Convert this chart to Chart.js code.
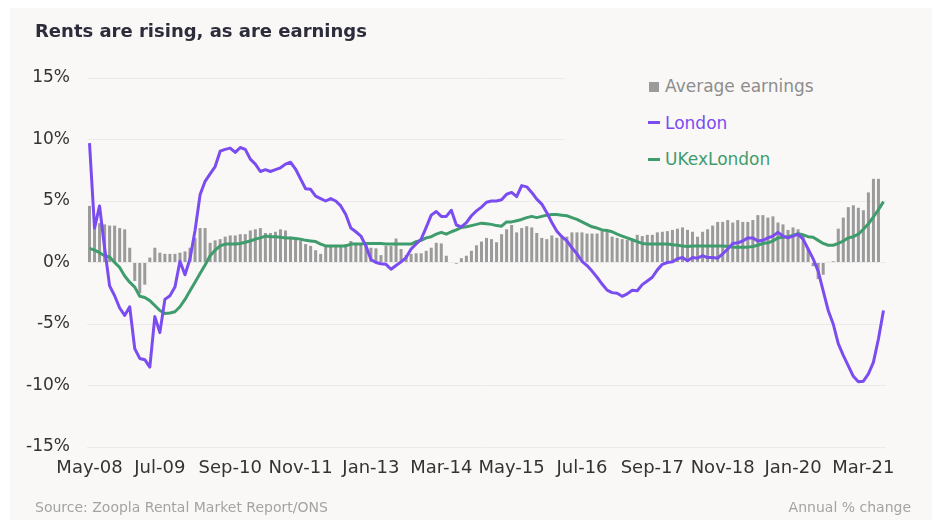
<!DOCTYPE html>
<html>
<head>
<meta charset="utf-8">
<title>Rents are rising, as are earnings</title>
<script src="https://cdn.jsdelivr.net/npm/chart.js@4.4.1/dist/chart.umd.min.js"></script>
<style>
    body { margin: 0; width: 932px; height: 520px; overflow: hidden; background: #fff; font-family: "DejaVu Sans", sans-serif; }
    #panel { position: absolute; left: 10px; top: 8px; width: 922px; height: 512px; background: #f9f8f6; }
    #chart { position: absolute; left: 0; top: 0; }
    .txt { position: absolute; line-height: 1; white-space: nowrap; }
    #title { left: 35px; top: 22px; font-size: 18px; font-weight: bold; color: #2c2c3a; }
    #legend { position: absolute; left: 565px; top: 64px; width: 367px; height: 108px; background: #f9f8f6; }
    .lg { font-size: 17px; left: 665px; }
    .swatch { position: absolute; }
    #source { left: 35px; top: 500px; font-size: 14px; color: #a3a3a3; }
    #unit { right: 21px; top: 500px; font-size: 14px; color: #a3a3a3; }
</style>
</head>
<body>
<div id="panel"></div>
<canvas id="chart" width="932" height="520"></canvas>
<div id="title" class="txt">Rents are rising, as are earnings</div>
<div id="legend"></div>
<div class="swatch" style="left:649px; top:82px; width:10px; height:10px; background:#9b9b9b;"></div>
<div class="txt lg" style="top:78px; color:#8d8d8d;">Average earnings</div>
<div class="swatch" style="left:648px; top:121px; width:12px; height:3px; background:#7b4cf0;"></div>
<div class="txt lg" style="top:115px; color:#7b4cf0;">London</div>
<div class="swatch" style="left:648px; top:158px; width:12px; height:3px; background:#3f9c6d;"></div>
<div class="txt lg" style="top:151px; color:#3f9c6d;">UKexLondon</div>
<div id="source" class="txt">Source: Zoopla Rental Market Report/ONS</div>
<div id="unit" class="txt">Annual % change</div>
<script>
// Monthly series, May-08 to Jul-21
const monthNames = ['Jan', 'Feb', 'Mar', 'Apr', 'May', 'Jun', 'Jul', 'Aug', 'Sep', 'Oct', 'Nov', 'Dec'];
const startYear = 2008;
const startMonth = 4; // May
const monthCount = 159;

const months = [];
for (let k = 0; k < monthCount; k++) {
    const m = (startMonth + k) % 12;
    const y = startYear + Math.floor((startMonth + k) / 12);
    months.push(monthNames[m] + '-' + String(y).slice(2));
}

const tickLabels = ['May-08', 'Jul-09', 'Sep-10', 'Nov-11', 'Jan-13', 'Mar-14',
    'May-15', 'Jul-16', 'Sep-17', 'Nov-18', 'Jan-20', 'Mar-21'];

const earnings = [
    4.6, 3.3, 3.2, 3.1, 3.0, 3.0, 2.8, 2.7, 1.2, -1.5, -2.5, -1.8, 0.4, 1.2, 0.8, 0.7, 0.7, 0.7, 0.8, 0.9,
    1.2, 2.0, 2.8, 2.8, 1.6, 1.8, 1.9, 2.1, 2.2, 2.2, 2.3, 2.3, 2.6, 2.7, 2.8, 2.4, 2.4, 2.5, 2.7, 2.6,
    2.1, 2.0, 1.8, 1.5, 1.35, 1.0, 0.7, 1.3, 1.3, 1.3, 1.3, 1.5, 1.75, 1.6, 1.55, 1.5, 1.2, 1.15, 0.6, 1.35,
    1.35, 1.95, 1.1, 0.6, 0.7, 0.75, 0.75, 0.95, 1.2, 1.6, 1.55, 0.55, 0.0, -0.1, 0.35, 0.55, 0.95, 1.4, 1.7, 2.0,
    1.9, 1.65, 2.3, 2.7, 3.05, 2.45, 2.8, 2.95, 2.85, 2.4, 2.0, 1.9, 2.2, 2.0, 2.15, 2.1, 2.45, 2.45, 2.45, 2.35,
    2.35, 2.35, 2.55, 2.6, 2.1, 2.0, 1.9, 1.85, 1.85, 2.25, 2.15, 2.25, 2.25, 2.45, 2.5, 2.55, 2.65, 2.75, 2.85, 2.65,
    2.5, 2.1, 2.5, 2.7, 3.0, 3.3, 3.3, 3.45, 3.25, 3.45, 3.3, 3.3, 3.45, 3.85, 3.85, 3.65, 3.75, 3.25, 3.1, 2.65,
    2.85, 2.7, 2.3, 1.1, -0.3, -1.35, -1.0, 0.05, 0.1, 2.75, 3.65, 4.5, 4.65, 4.45, 4.25, 5.7, 6.8, 6.8, null
];

const london = [
    9.7, 2.8, 4.6, 1.2, -1.9, -2.7, -3.7, -4.3, -3.6, -7.0, -7.8, -7.9, -8.5, -4.4, -5.7, -3.0, -2.7, -2.0, 0.1, -1.0,
    0.3, 2.6, 5.5, 6.6, 7.2, 7.8, 9.05, 9.2, 9.3, 8.95, 9.35, 9.2, 8.4, 8.0, 7.4, 7.55, 7.4, 7.55, 7.7, 8.0,
    8.15, 7.6, 6.8, 6.0, 5.95, 5.4, 5.2, 5.0, 5.2, 5.0, 4.6, 3.9, 2.8, 2.5, 2.15, 1.35, 0.25, 0.0, -0.1, -0.15,
    -0.55, -0.25, 0.05, 0.4, 1.1, 1.5, 1.9, 2.85, 3.85, 4.15, 3.75, 3.75, 4.25, 3.05, 2.9, 3.25, 3.8, 4.2, 4.5, 4.9,
    5.0, 5.0, 5.1, 5.55, 5.7, 5.35, 6.25, 6.15, 5.7, 5.15, 4.75, 4.05, 3.25, 2.55, 2.1, 1.75, 1.2, 0.7, 0.1, -0.25,
    -0.7, -1.2, -1.75, -2.25, -2.45, -2.5, -2.75, -2.55, -2.25, -2.3, -1.8, -1.5, -1.2, -0.6, -0.15, 0.0, 0.05, 0.3, 0.4, 0.15,
    0.4, 0.35, 0.55, 0.4, 0.4, 0.35, 0.7, 1.1, 1.55, 1.6, 1.75, 2.0, 2.0, 1.75, 1.8, 2.0, 2.15, 2.45, 2.15, 2.0,
    2.15, 2.3, 1.9, 1.1, 0.3, -0.7, -2.3, -3.9, -5.0, -6.6, -7.55, -8.4, -9.25, -9.7, -9.65, -9.05, -8.1, -6.2, -3.9
];

const ukExLondon = [
    1.15, 1.0, 0.8, 0.55, 0.45, 0.0, -0.4, -1.1, -1.6, -2.0, -2.75, -2.85, -3.1, -3.5, -3.9, -4.15, -4.1, -4.0, -3.6, -3.0,
    -2.3, -1.6, -0.9, -0.2, 0.55, 1.0, 1.35, 1.5, 1.5, 1.5, 1.55, 1.65, 1.75, 1.9, 2.0, 2.15, 2.1, 2.1, 2.05, 2.0,
    2.0, 1.95, 1.9, 1.8, 1.75, 1.7, 1.5, 1.35, 1.35, 1.35, 1.35, 1.35, 1.5, 1.5, 1.5, 1.55, 1.55, 1.55, 1.55, 1.5,
    1.5, 1.5, 1.5, 1.5, 1.5, 1.7, 1.8, 2.0, 2.1, 2.3, 2.45, 2.3, 2.5, 2.65, 2.85, 2.9, 3.0, 3.1, 3.2, 3.15,
    3.1, 3.0, 2.95, 3.3, 3.3, 3.4, 3.5, 3.65, 3.75, 3.65, 3.75, 3.85, 3.9, 3.9, 3.85, 3.8, 3.65, 3.5, 3.3, 3.1,
    2.9, 2.8, 2.65, 2.6, 2.5, 2.3, 2.15, 2.0, 1.85, 1.7, 1.55, 1.5, 1.5, 1.5, 1.5, 1.5, 1.45, 1.4, 1.35, 1.3,
    1.35, 1.35, 1.35, 1.35, 1.35, 1.35, 1.35, 1.3, 1.25, 1.25, 1.25, 1.25, 1.3, 1.4, 1.55, 1.6, 1.75, 2.0, 2.05, 2.1,
    2.2, 2.35, 2.25, 2.1, 2.05, 1.8, 1.55, 1.4, 1.4, 1.55, 1.75, 2.0, 2.1, 2.3, 2.7, 3.15, 3.7, 4.3, 4.95
];

const yTicks = [-15, -10, -5, 0, 5, 10, 15];

const ctx = document.getElementById('chart').getContext('2d');

new Chart(ctx, {
    type: 'bar',
    data: {
        labels: months,
        datasets: [
            {
                type: 'line',
                label: 'London',
                data: london,
                borderColor: '#7b4cf0',
                borderWidth: 3,
                pointRadius: 0,
                tension: 0,
                borderJoinStyle: 'round',
                order: 1
            },
            {
                type: 'line',
                label: 'UKexLondon',
                data: ukExLondon,
                borderColor: '#3f9c6d',
                borderWidth: 3,
                pointRadius: 0,
                tension: 0,
                borderJoinStyle: 'round',
                order: 2
            },
            {
                label: 'Average earnings',
                data: earnings,
                backgroundColor: '#9b9b9b',
                barPercentage: 0.6,
                categoryPercentage: 1,
                order: 3
            }
        ]
    },
    options: {
        responsive: false,
        animation: false,
        layout: { padding: { left: 0, right: 46, top: 78, bottom: 0 } },
        plugins: {
            legend: { display: false },
            tooltip: { enabled: false }
        },
        scales: {
            x: {
                grid: { display: false, drawTicks: false },
                border: { display: false },
                ticks: {
                    autoSkip: false,
                    maxRotation: 0,
                    padding: 11,
                    color: '#333',
                    font: { family: 'DejaVu Sans', size: 18 },
                    callback: (value, index) => tickLabels.includes(months[index]) ? months[index] : ''
                },
                afterFit: scale => { scale.height = 73; }
            },
            y: {
                min: -15,
                max: 15,
                afterBuildTicks: scale => { scale.ticks = yTicks.map(v => ({ value: v })); },
                grid: { color: '#ebebeb', drawTicks: false },
                border: { display: false },
                ticks: {
                    padding: 17,
                    color: '#333',
                    font: { family: 'DejaVu Sans', size: 17 },
                    callback: value => value + '%'
                },
                afterFit: scale => { scale.width = 87; }
            }
        }
    }
});
</script>
</body>
</html>
